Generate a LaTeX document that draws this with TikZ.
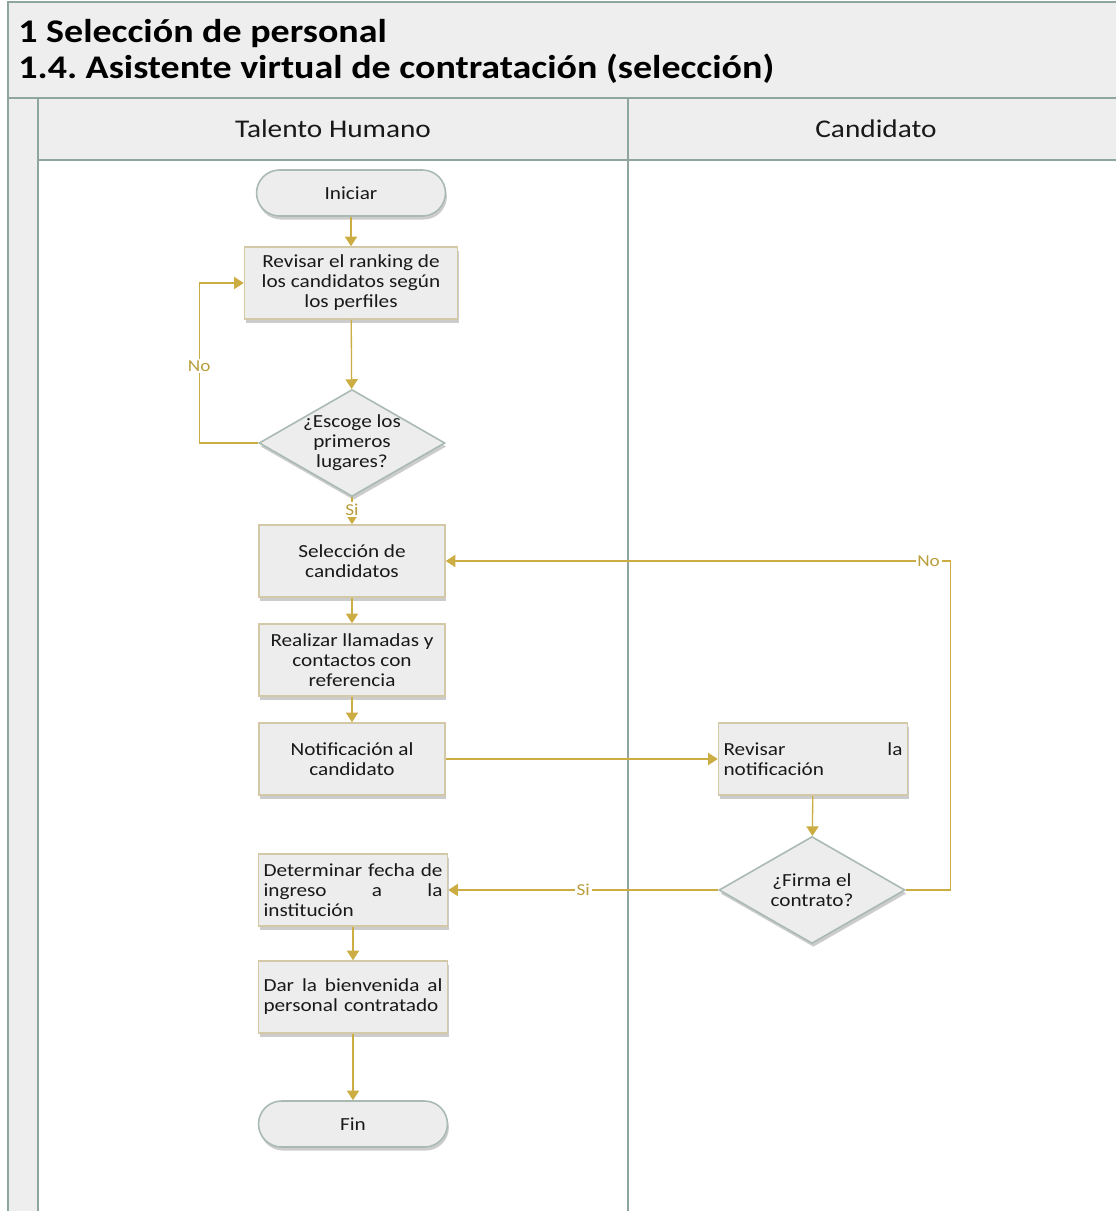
\documentclass[tikz,border=0pt]{standalone}
\usepackage{fontspec}
\setmainfont{Carlito}[FakeStretch=1.15]
\usetikzlibrary{arrows.meta, positioning, calc, shapes.geometric, shadows}

\definecolor{poolline}{HTML}{8EA69B}
\definecolor{flowgold}{HTML}{CBAD43}
\definecolor{labelgold}{HTML}{B89E3C}
\definecolor{boxfill}{HTML}{EDEDED}
\definecolor{boxedge}{HTML}{D4C9A6}
\definecolor{termedge}{HTML}{A9BAB2}
\definecolor{headfill}{HTML}{EEEEEE}

\tikzset{
  boxshadow/.style={drop shadow={shadow xshift=0.8pt, shadow yshift=-2pt, opacity=0.2, fill=black}},
  procbox/.style={draw=boxedge, fill=boxfill, line width=0.9pt, minimum width=3.72cm, minimum height=1.44cm,
    align=center, inner sep=2pt, font=\fontsize{10.5}{11.4}\selectfont, text=black!90, boxshadow},
  terminal/.style={procbox, draw=termedge, rounded corners=0.46cm, minimum height=0.92cm, minimum width=3.78cm},
  decision/.style={diamond, draw=termedge, fill=boxfill, line width=0.9pt, minimum width=3.72cm,
    minimum height=2.14cm, inner sep=0pt, boxshadow},
  decisiontext/.style={align=center, font=\fontsize{10.5}{11.4}\selectfont, text=black!90},
  flow/.style={draw=flowgold, line width=0.75pt, -{Triangle[length=5.5pt, width=7pt]}},
  flowlabel/.style={fill=white, inner sep=1pt, text=labelgold, font=\fontsize{9.5}{10}\selectfont},
  lanehead/.style={font=\fontsize{14.5}{16}\selectfont, text=black!90},
  pooltitle/.style={anchor=base west, inner sep=0pt, font=\bfseries\fontsize{18.8}{20}\selectfont}
}

\begin{document}
\begin{tikzpicture}[x=0.02cm, y=-0.02cm]
  \useasboundingbox (0,0) rectangle (1116,1211);
  % Pool and lanes
  \draw[poolline, fill=headfill, line width=1.1pt] (8,2) rectangle (1130,98);
  \draw[poolline, fill=headfill, line width=1.1pt] (8,98) rectangle (38,1230);
  \draw[poolline, fill=headfill, line width=1.1pt] (38,98) rectangle (628,160);
  \draw[poolline, fill=headfill, line width=1.1pt] (628,98) rectangle (1130,160);
  \draw[poolline, line width=1.1pt] (38,160) -- (38,1230);
  \draw[poolline, line width=1.1pt] (628,160) -- (628,1230);
  \node[pooltitle] (title1) at (18,42) {1 Selección de personal};
  \node[pooltitle] (title2) at (18,78) {1.4.\ Asistente virtual de contratación (selección)};
  \node[lanehead] (lanetal) at (333,129) {Talento Humano};
  \node[lanehead] (lanecand) at (876,129) {Candidato};

  % Talento Humano
  \node[terminal] (start) at (351,193) {Iniciar};
  \node[procbox, minimum width=4.26cm] (rank) at (351,283) {Revisar el ranking de\\los candidatos según\\los perfiles};
  \node[decision] (escoge) at (352,443) {};
  \node[decisiontext] (escogetxt) at (escoge) {¿Escoge los\\primeros\\lugares?};
  \node[procbox] (selec) at (352,561) {Selección de\\candidatos};
  \node[procbox] (llamadas) at (352,660) {Realizar llamadas y\\contactos con\\referencia};
  \node[procbox] (notif) at (352,759) {Notificación al\\candidato};
  \node[procbox, minimum width=3.78cm, text width=3.58cm, align=left] (fecha) at (353,890) {Determinar\hfill fecha\hfill de\\ingreso\hfill a\hfill la\\institución};
  \node[procbox, minimum width=3.78cm, text width=3.58cm, align=left] (bienv) at (353,997) {Dar\hfill la\hfill bienvenida\hfill al\\personal contratado};
  \node[terminal] (fin) at (353,1124) {Fin};

  % Candidato
  \node[procbox, minimum width=3.78cm, text width=3.58cm, align=left] (revnotif) at (813,759) {Revisar\hfill la\\notificación};
  \node[decision] (firma) at (812,890) {};
  \node[decisiontext] (firmatxt) at (firma) {¿Firma el\\contrato?};

  % Connectors
  \draw[flow] (start) -- (rank);
  \draw[flow] (rank) -- (escoge);
  \draw[flow] (escoge.west) -- ++(-59,0) |- node[flowlabel, pos=0.24] {No} (rank.west);
  \draw[flow] (escoge) -- node[flowlabel, pos=0.45] {Si} (selec);
  \draw[flow] (selec) -- (llamadas);
  \draw[flow] (llamadas) -- (notif);
  \draw[flow] (notif) -- (revnotif);
  \draw[flow] (revnotif) -- (firma);
  \draw[flow] (firma.east) -- ++(45,0) |- node[flowlabel, pos=0.522] {No} (selec.east);
  \draw[flow] (firma.west) -- node[flowlabel] {Si} (fecha.east);
  \draw[flow] (fecha) -- (bienv);
  \draw[flow] (bienv) -- (fin);
\end{tikzpicture}
\end{document}
